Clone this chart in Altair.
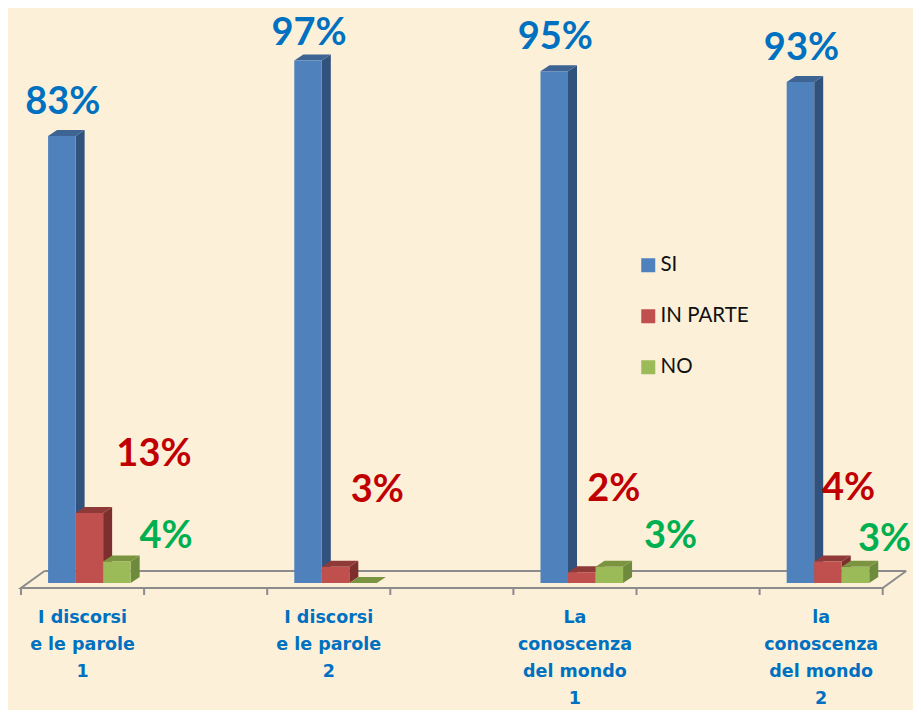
import altair as alt
import pandas as pd

categories = ["I discorsi\ne le parole\n1", "I discorsi\ne le parole\n2",
              "La\nconoscenza\ndel mondo\n1", "la\nconoscenza\ndel mondo\n2"]
series = ["SI", "IN PARTE", "NO"]
si = [83, 97, 95, 93]
in_parte = [13, 3, 2, 4]
no = [4, 0, 3, 3]

# layout
W, H = 905, 702
PX_U, PX_P = 123.1, 5.386
BAR_START, BAR_W = 0.22, 0.2236
DX, DY = 9 / PX_U, 6 / PX_P
front = {"SI": "#4F81BD", "IN PARTE": "#C0504D", "NO": "#9BBB59"}
side = {"SI": "#31527C", "IN PARTE": "#7D2F2D", "NO": "#6E8B3D"}
top = {"SI": "#3E6494", "IN PARTE": "#8F3A38", "NO": "#7A9440"}
text_col = {"SI": "#0070C0", "IN PARTE": "#C00000", "NO": "#00B050"}
FONT = "Lato"

xs = alt.Scale(domain=[-13 / PX_U, 892 / PX_U], range=[0, W], nice=False, zero=False)
ys = alt.Scale(domain=[-127 / PX_P, 575 / PX_P], range=[H, 0], nice=False, zero=False)

fr, sd, tp = [], [], []
vals = {"SI": si, "IN PARTE": in_parte, "NO": no}
for c in range(4):
    for s, name in enumerate(series):
        v = vals[name][c]
        x0 = 2 * c + BAR_START + s * BAR_W
        x1 = x0 + BAR_W
        k = f"{c}-{s}"
        fr.append(dict(x=x0, x2=x1, y=0, y2=v, s=name))
        sd += [dict(k=k, x=x1, y=v, y2=0, f=side[name]),
               dict(k=k, x=x1 + DX, y=v + DY, y2=DY, f=side[name])]
        tp += [dict(k=k, y=v, x=x0, x2=x1, f=top[name]),
               dict(k=k, y=v + DY, x=x0 + DX, x2=x1 + DX, f=top[name])]
fr, sd, tp = map(pd.DataFrame, (fr, sd, tp))

X = lambda f="x": alt.X(f"{f}:Q", scale=xs, axis=None)
Y = lambda f="y": alt.Y(f"{f}:Q", scale=ys, axis=None)

GRAY = "#8C8C8C"
FRONT_Y, BACK_Y, TICK_Y = -5 / PX_P, 12 / PX_P, -12 / PX_P
FDX = 23.5 / PX_U
floor_pts = pd.DataFrame({"x": [FDX, 0, 7, 7 + FDX], "y": [BACK_Y, FRONT_Y, FRONT_Y, BACK_Y], "o": [0, 1, 2, 3]})
floor = alt.Chart(floor_pts).mark_line(color=GRAY, strokeWidth=2, interpolate="linear").encode(
    x=X(), y=Y(), order="o:Q")
back = alt.Chart(pd.DataFrame({"x": [FDX], "x2": [7 + FDX], "y": [BACK_Y]})).mark_rule(
    color=GRAY, strokeWidth=2).encode(x=X(), x2="x2:Q", y=Y())
ticks = alt.Chart(pd.DataFrame({"x": list(range(8))})).transform_calculate(
    a=f"{FRONT_Y}", b=f"{TICK_Y}").mark_rule(color=GRAY, strokeWidth=2).encode(
    x=X(), y=Y("a"), y2="b:Q")

sides = alt.Chart(sd).mark_area(interpolate="linear").encode(
    x=X(), y=Y(), y2="y2:Q", fill=alt.Fill("f:N", scale=None, legend=None), detail="k:N")
tops = alt.Chart(tp).mark_area(orient="horizontal", interpolate="linear").encode(
    y=Y(), x=X(), x2="x2:Q", fill=alt.Fill("f:N", scale=None, legend=None), detail="k:N")
fronts = alt.Chart(fr).mark_rect().encode(
    x=X(), x2="x2:Q", y=Y(), y2="y2:Q",
    color=alt.Color("s:N", scale=alt.Scale(domain=series, range=[front[s] for s in series]),
                    legend=alt.Legend(title=None, orient="none", legendX=630, legendY=247,
                                      symbolType="square", symbolSize=196, symbolStrokeWidth=0,
                                      symbolOpacity=1, rowPadding=30, labelFont=FONT, labelFontSize=20.5,
                                      labelColor="#111111", labelOffset=2, padding=0, labelLimit=200)))

# percentage labels
si_lift = [33, 27, 33, 33]
red_x = [1.08, 0.894, 0.816, 0.723]
red_y = [23.75, 17.1, 17.25, 17.45]
green_x = [1.178, None, 1.276, 1.015]
green_y = [8.55, None, 8.55, 8.0]
rows = []
for c in range(4):
    rows.append(dict(x=2 * c + 0.34, y=si[c] + si_lift[c] / PX_P, t=f"{si[c]}%", col=text_col["SI"]))
    rows.append(dict(x=2 * c + red_x[c], y=red_y[c], t=f"{in_parte[c]}%", col=text_col["IN PARTE"]))
    if green_x[c] is not None:
        rows.append(dict(x=2 * c + green_x[c], y=green_y[c], t=f"{no[c]}%", col=text_col["NO"]))
pct = alt.Chart(pd.DataFrame(rows)).mark_text(font=FONT, fontWeight="bold", fontSize=38,
                                              align="center", baseline="middle").encode(
    x=X(), y=Y(), text="t:N", fill=alt.Fill("col:N", scale=None, legend=None))

cat_df = pd.DataFrame({"x": [2 * c + 0.5 for c in range(4)], "y": [-26 / PX_P] * 4, "t": categories})
cats = alt.Chart(cat_df).mark_text(font="DejaVu Sans", fontWeight="bold", fontSize=17.5, color="#0070C0",
                                   lineBreak="\n", lineHeight=27, align="center", baseline="top").encode(
    x=X(), y=Y(), text="t:N")

chart = alt.layer(back, floor, ticks, sides, tops, fronts, pct, cats).properties(
    width=W, height=H, background="#FCF0D9", padding=0,
    autosize=alt.AutoSizeParams(type="none")
).configure_view(stroke=None)

chart.save("out.html", embed_options={"renderer": "svg", "actions": False})
